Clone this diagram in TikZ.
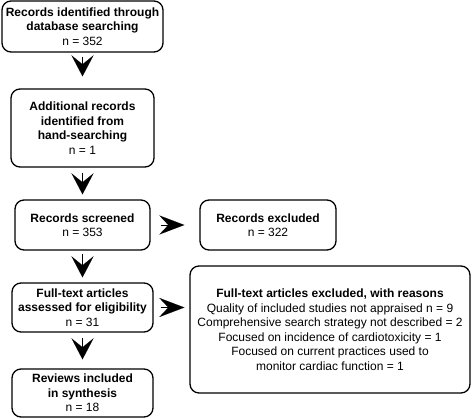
\documentclass[tikz,border=0pt]{standalone}
\usepackage{fontspec}
\setmainfont{Liberation Sans}
\usetikzlibrary{arrows.meta}
\begin{document}
\begin{tikzpicture}[x=1pt,y=-1pt,
  box/.style={draw=black, line width=1.3pt, rounded corners=9pt, align=center,
    inner sep=0pt, font=\fontsize{12}{14.5}\selectfont},
  bbox/.style={box, font=\fontsize{12}{14.5}\selectfont\bfseries},
  downarr/.style={line width=0.05pt, -{Stealth[length=21pt,width=22pt,inset=9pt]}},
  rightarr/.style={line width=0.05pt, -{Stealth[length=25pt,width=19pt,inset=9pt]}}]
\useasboundingbox (0,0) rectangle (472,419);
\node[bbox, minimum width=161pt, minimum height=51pt] (b1) at (82.5,26.5)
  {Records identified through\\database searching\\\mdseries n = 352};
\node[bbox, minimum width=143pt, minimum height=78pt] (b2) at (82.5,128)
  {Additional records\\identified from\\hand-searching\\\mdseries n = 1};
\node[bbox, minimum width=135pt, minimum height=50pt] (b3) at (82.5,225)
  {Records screened\\\mdseries n = 353};
\node[bbox, minimum width=136pt, minimum height=50pt] (b4) at (268,225)
  {Records excluded\\\mdseries n = 322};
\node[bbox, minimum width=141pt, minimum height=49pt] (b5) at (82.5,307.5)
  {Full-text articles\\assessed for eligibility\\\mdseries n = 31};
\node[box, minimum width=280pt, minimum height=127pt] (b6) at (330,329.5)
  {\textbf{Full-text articles excluded, with reasons}\\
   Quality of included studies not appraised n = 9\\
   Comprehensive search strategy not described = 2\\
   Focused on incidence of cardiotoxicity = 1\\
   Focused on current practices used to\\
   monitor cardiac function = 1};
\node[bbox, minimum width=141pt, minimum height=48pt] (b7) at (82.5,393)
  {Reviews included\\in synthesis\\\mdseries n = 18};
\draw[downarr, shorten <=4pt, shorten >=12pt] (b1.south) -- (b2.north);
\draw[downarr, shorten <=5pt, shorten >=5pt] (b2.south) -- (b3.north);
\draw[downarr, shorten <=3pt, shorten >=5pt] (b3.south) -- (b5.north);
\draw[downarr, shorten <=5pt, shorten >=9pt] (b5.south) -- (b7.north);
\draw[rightarr, shorten <=10pt, shorten >=15pt] (b3.east) -- (b4.west);
\draw[rightarr, shorten <=7pt, shorten >=5pt] (b5.east) -- (b5.east -| b6.west);
\end{tikzpicture}
\end{document}
